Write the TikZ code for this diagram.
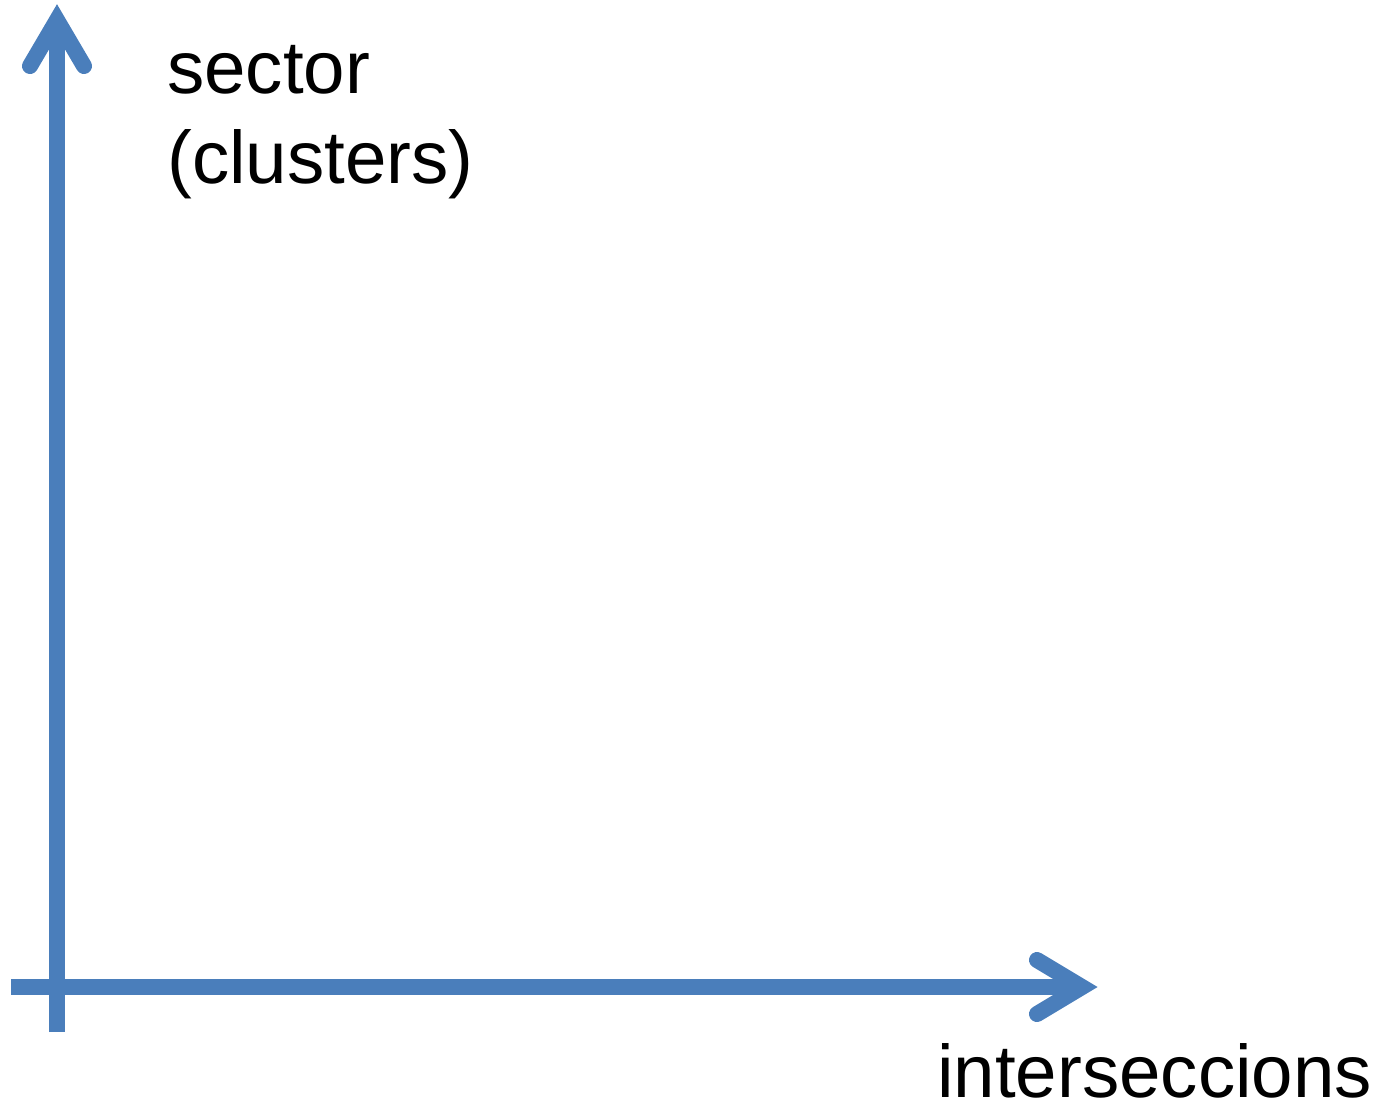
\documentclass[tikz,border=0pt]{standalone}
\usepackage{fontspec}
\setmainfont{Liberation Sans}
\definecolor{axisblue}{RGB}{74,126,187}
\begin{document}
\begin{tikzpicture}[x=1pt,y=-1pt,
  axisline/.style={draw=axisblue,line width=16pt},
  headline/.style={draw=axisblue,line width=16pt,line cap=round,line join=miter},
  lbl/.style={inner sep=0pt,anchor=base west,font=\fontsize{74.5}{88}\selectfont}]
\useasboundingbox (0,0) rectangle (1390,1112);
\coordinate (ybot) at (57,1032);
\coordinate (ytop) at (57,20);
\coordinate (xleft) at (11,987);
\coordinate (xright) at (1082,987);
\coordinate (yl) at (30,66);
\coordinate (yr) at (84,66);
\coordinate (xu) at (1037,960);
\coordinate (xd) at (1037,1014);
\draw[axisline] (ybot) -- (ytop);
\draw[axisline] (xleft) -- (xright);
\draw[headline] (yl) -- (ytop) -- (yr);
\draw[headline] (xu) -- (xright) -- (xd);
\node[lbl] (sector) at (167,93) {sector};
\node[lbl] (clusters) at (167,183) {(clusters)};
\node[lbl] (inter) at (937,1097) {interseccions};
\end{tikzpicture}
\end{document}
